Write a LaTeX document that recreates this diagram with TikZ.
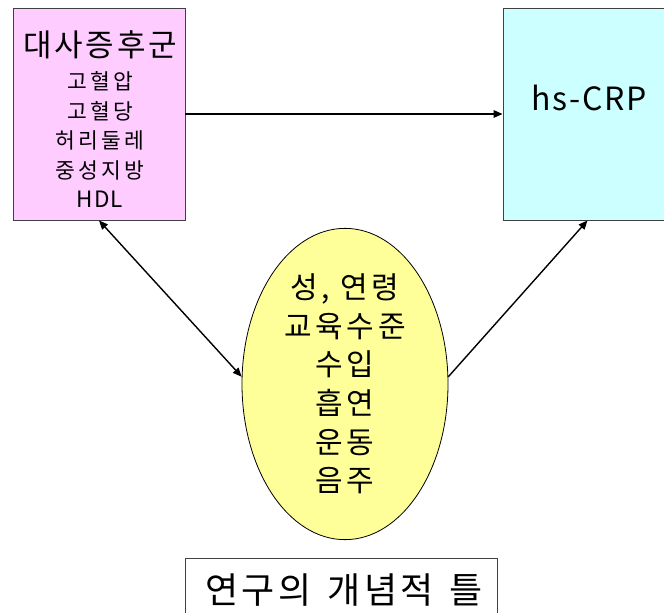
\documentclass[tikz,border=0pt]{standalone}
\usepackage{fontspec}
\setmainfont{Noto Sans CJK KR}
\usetikzlibrary{shapes.geometric,arrows.meta,calc}
\definecolor{pinkfill}{HTML}{FFCCFF}
\definecolor{cyanfill}{HTML}{CCFFFF}
\definecolor{yellowfill}{HTML}{FFFF99}
\definecolor{boxline}{HTML}{404040}
\newcommand{\spaced}[1]{\addfontfeature{LetterSpace=#1}}
\tikzset{
  panel/.style={draw=boxline, line width=0.9pt, inner sep=0pt},
  conn/.style={line width=1.4pt, draw=black},
  tip/.tip={Triangle[length=9pt,width=7.5pt]},
}
\begin{document}
\begin{tikzpicture}[x=1pt,y=-1pt]
\useasboundingbox (0,0) rectangle (664,613);
% left box
\node[panel, fill=pinkfill, minimum width=172pt, minimum height=212pt] (ms) at (99,114) {};
\node[align=center, inner sep=0pt, font=\fontsize{21.5}{29.5}\selectfont] (mst) at (100,119)
  {{\fontsize{31}{31}\selectfont\spaced{9}대사증후군}\\[4pt]{\spaced{15}고혈압}\\{\spaced{15}고혈당}\\{\spaced{15}허리둘레}\\{\spaced{15}중성지방}\\{\fontsize{22.5}{29.5}\selectfont\spaced{5}HDL}};
% right box
\node[panel, fill=cyanfill, minimum width=161pt, minimum height=212pt] (cr) at (583.5,114) {};
\node[inner sep=0pt, font=\fontsize{32}{32}\selectfont\spaced{5}] (crt) at (589,98) {hs-CRP};
% ellipse
\node[ellipse, draw=black, line width=0.8pt, fill=yellowfill, minimum width=206pt, minimum height=264pt, inner sep=0pt,
  align=center, font=\fontsize{30}{38.6}\selectfont\spaced{12}] (cov) at (345,384)
  {성, 연령\\교육수준\\수입\\흡연\\운동\\음주};
% bottom title box
\node[panel, minimum width=312pt, minimum height=62pt, anchor=north west] (ttl) at (185,558) {};
\node[inner sep=0pt, font=\fontsize{36}{36}\selectfont\spaced{10}] (ttlt) at (344,590) {연구의\hspace{4pt} 개념적\hspace{4pt} 틀};
% connectors
\draw[conn, -{tip}] (ms.east) -- (cr.west);
\draw[conn, {tip}-{tip}] (ms.south) -- (cov.176);
\draw[conn, -{tip}] (cov.4) -- ($(cr.south)+(4,0)$);
\end{tikzpicture}
\end{document}
